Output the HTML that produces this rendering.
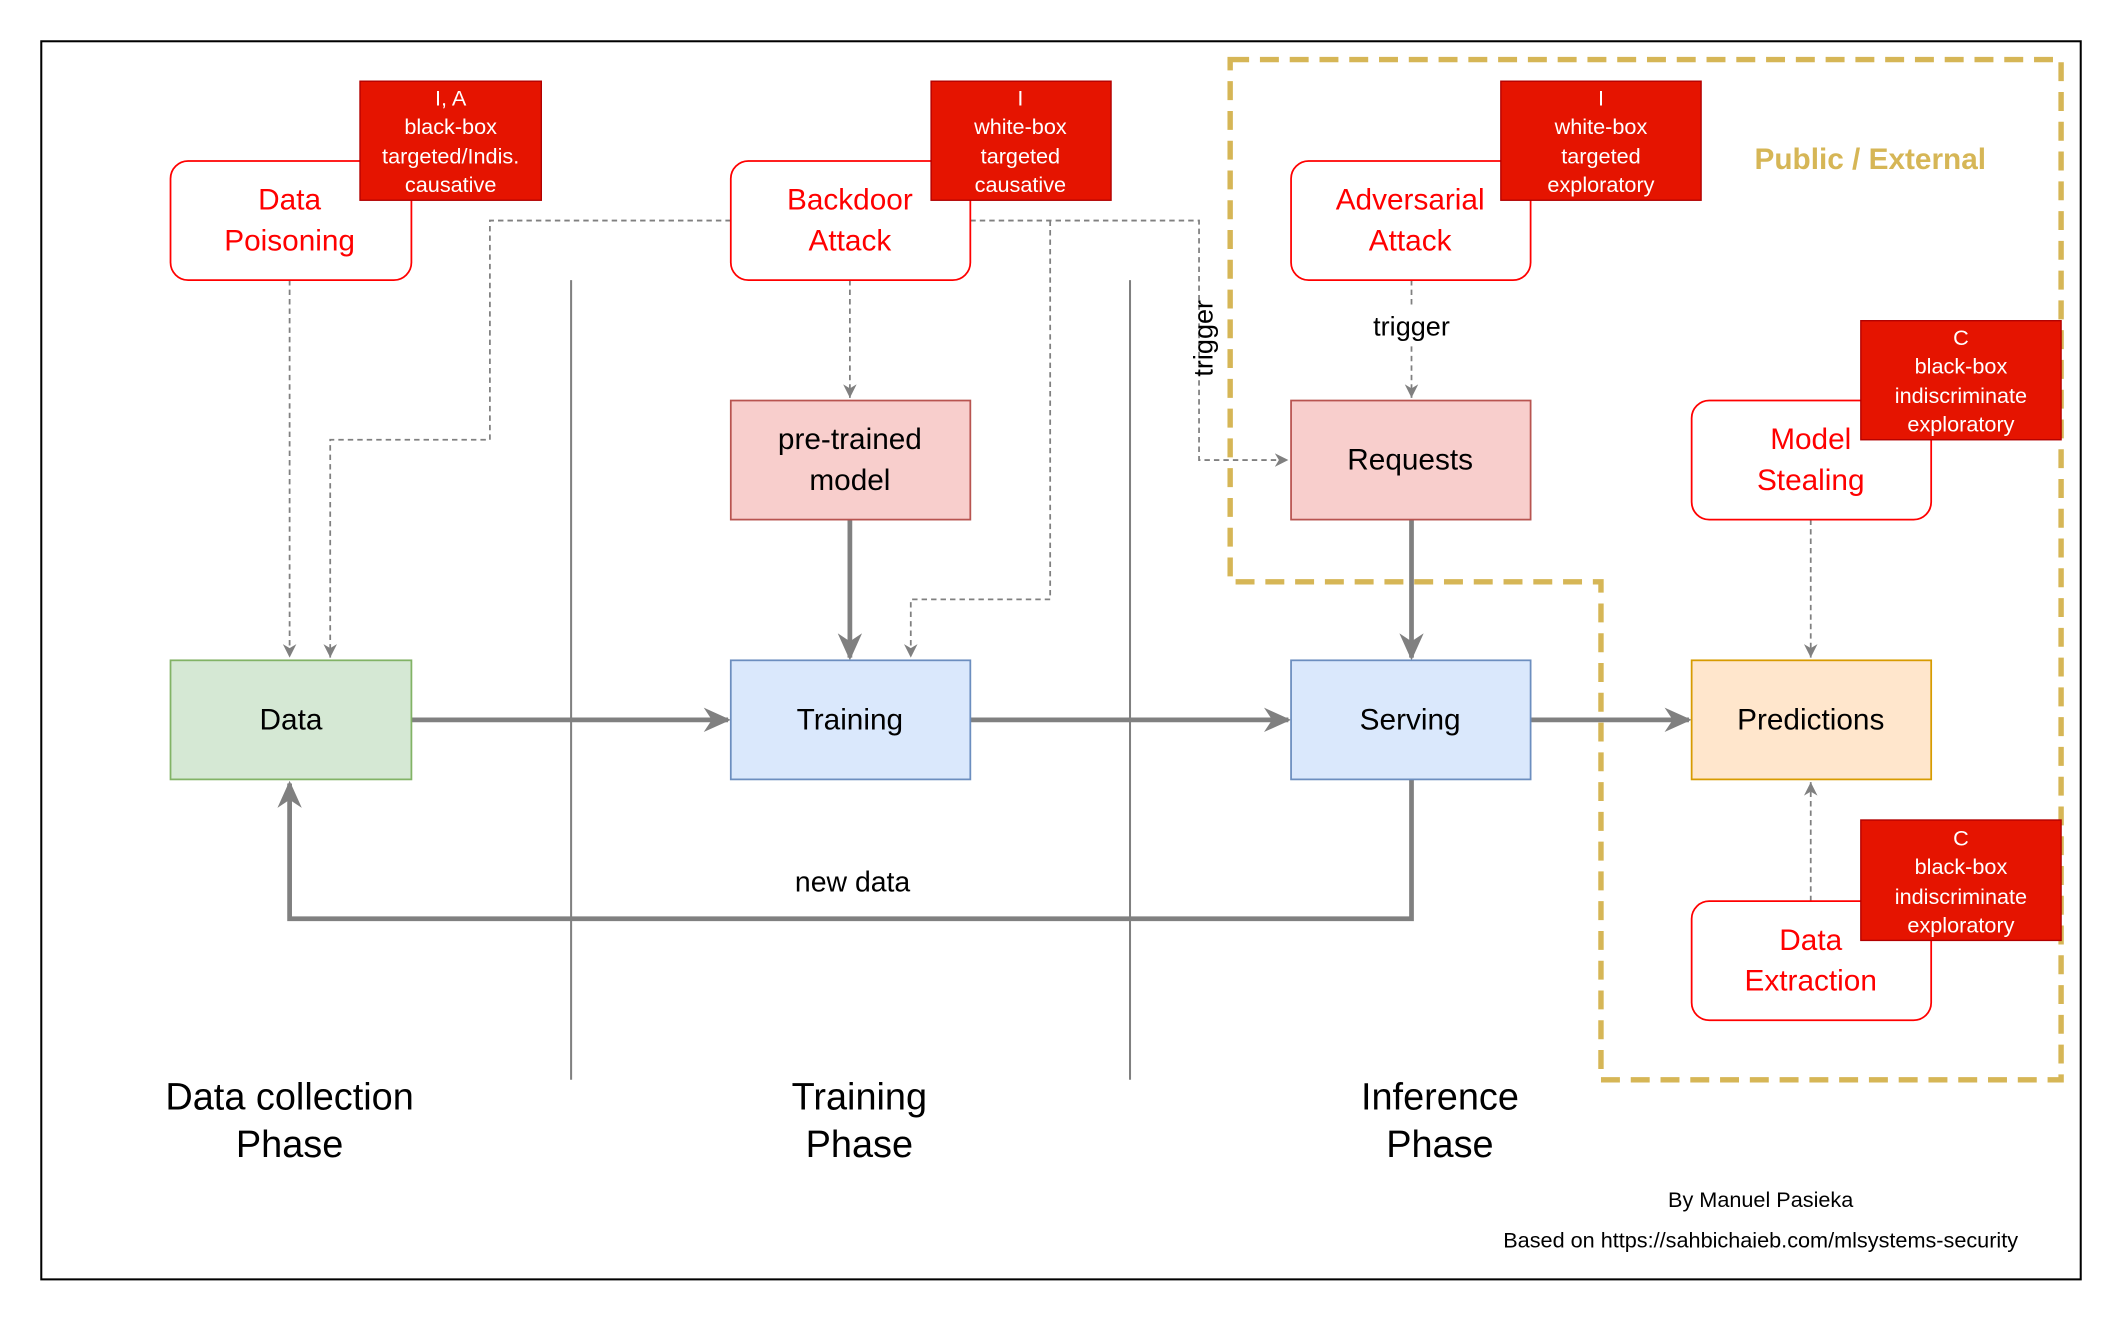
<!DOCTYPE html>
<html><head><meta charset="utf-8"><style>
html,body{margin:0;padding:0;background:#fff;width:2122px;height:1322px;overflow:hidden}
svg{display:block}
text{font-family:"Liberation Sans",Arial,sans-serif}
</style></head><body>
<svg width="2122" height="1322" viewBox="0 0 1568 977" preserveAspectRatio="none" xmlns="http://www.w3.org/2000/svg">
<defs>
<marker id="sm" markerWidth="12" markerHeight="12" refX="10" refY="6" orient="auto" markerUnits="userSpaceOnUse"><path d="M0,1 L10,6 L0,11 L3,6 z" fill="#808080"/></marker>
<marker id="bg" viewBox="0 0 20 20" markerWidth="20" markerHeight="20" refX="18" refY="10" orient="auto" markerUnits="userSpaceOnUse"><path d="M0,1 L20,10 L0,19 L6,10 z" fill="#808080"/></marker>
</defs>
<rect x="0" y="0" width="1568" height="977" fill="#fff"/>
<rect x="30.5" y="30.5" width="1507" height="915" fill="none" stroke="#000" stroke-width="1.5"/>
<path d="M909,44 H1523 V798 H1183 V430 H909 Z" fill="none" stroke="#d6b656" stroke-width="4" stroke-dasharray="14,8"/>
<text x="1382" y="125" font-size="22" font-weight="bold" fill="#d6b656" text-anchor="middle">Public / External</text>

<line x1="422" y1="207" x2="422" y2="798" stroke="#808080" stroke-width="1.5"/>
<line x1="835" y1="207" x2="835" y2="798" stroke="#808080" stroke-width="1.5"/>

<g fill="none" stroke="#808080" stroke-width="1.3" stroke-dasharray="4,3">
<path d="M214,207 V486" marker-end="url(#sm)"/>
<path d="M540,163 H362 V325 H244 V486" marker-end="url(#sm)"/>
<path d="M628,207 V294" marker-end="url(#sm)"/>
<path d="M717,163 H886 V340 H952" marker-end="url(#sm)"/>
<path d="M776,163 V443 H673 V486" marker-end="url(#sm)"/>
<path d="M1043,207 V294" marker-end="url(#sm)"/>
<path d="M1338,384 V486" marker-end="url(#sm)"/>
<path d="M1338,666 V578" marker-end="url(#sm)"/>
</g>
<rect x="1005" y="226" width="76" height="28" fill="#fff"/>
<text x="1043" y="248" font-size="20" text-anchor="middle">trigger</text>
<text transform="translate(896,250) rotate(-90)" font-size="20" text-anchor="middle">trigger</text>

<g fill="none" stroke="#808080" stroke-width="3.5">
<path d="M304,532 H538" marker-end="url(#bg)"/>
<path d="M717,532 H952" marker-end="url(#bg)"/>
<path d="M1131,532 H1248" marker-end="url(#bg)"/>
<path d="M628,384 V486" marker-end="url(#bg)"/>
<path d="M1043,384 V486" marker-end="url(#bg)"/>
<path d="M1043,576 V679 H214 V579" marker-end="url(#bg)"/>
</g>
<rect x="575" y="636" width="110" height="28" fill="#fff"/>
<text x="630" y="659" font-size="21" text-anchor="middle">new data</text>

<g font-size="22" text-anchor="middle">
<rect x="126" y="488" width="178" height="88" fill="#d5e8d4" stroke="#82b366" stroke-width="1.3"/>
<text x="215" y="539">Data</text>
<rect x="540" y="488" width="177" height="88" fill="#dae8fc" stroke="#6c8ebf" stroke-width="1.3"/>
<text x="628" y="539">Training</text>
<rect x="954" y="488" width="177" height="88" fill="#dae8fc" stroke="#6c8ebf" stroke-width="1.3"/>
<text x="1042" y="539">Serving</text>
<rect x="1250" y="488" width="177" height="88" fill="#ffe6cc" stroke="#d79b00" stroke-width="1.3"/>
<text x="1338" y="539">Predictions</text>
<rect x="540" y="296" width="177" height="88" fill="#f8cecc" stroke="#b85450" stroke-width="1.3"/>
<text x="628" y="332">pre-trained</text><text x="628" y="362">model</text>
<rect x="954" y="296" width="177" height="88" fill="#f8cecc" stroke="#b85450" stroke-width="1.3"/>
<text x="1042" y="347">Requests</text>
</g>

<g font-size="22" text-anchor="middle" fill="#ff0000">
<rect x="126" y="119" width="178" height="88" rx="13" fill="#fff" stroke="#ff0000" stroke-width="1.3"/>
<text x="214" y="155">Data</text><text x="214" y="185">Poisoning</text>
<rect x="540" y="119" width="177" height="88" rx="13" fill="#fff" stroke="#ff0000" stroke-width="1.3"/>
<text x="628" y="155">Backdoor</text><text x="628" y="185">Attack</text>
<rect x="954" y="119" width="177" height="88" rx="13" fill="#fff" stroke="#ff0000" stroke-width="1.3"/>
<text x="1042" y="155">Adversarial</text><text x="1042" y="185">Attack</text>
<rect x="1250" y="296" width="177" height="88" rx="13" fill="#fff" stroke="#ff0000" stroke-width="1.3"/>
<text x="1338" y="332">Model</text><text x="1338" y="362">Stealing</text>
<rect x="1250" y="666" width="177" height="88" rx="13" fill="#fff" stroke="#ff0000" stroke-width="1.3"/>
<text x="1338" y="702">Data</text><text x="1338" y="732">Extraction</text>
</g>

<g font-size="16" text-anchor="middle" fill="#fff">
<rect x="266" y="60" width="134" height="88" fill="#e51400" stroke="#b20000"/>
<text x="333" y="78">I, A</text><text x="333" y="99">black-box</text><text x="333" y="121">targeted/Indis.</text><text x="333" y="142">causative</text>
<rect x="688" y="60" width="133" height="88" fill="#e51400" stroke="#b20000"/>
<text x="754" y="78">I</text><text x="754" y="99">white-box</text><text x="754" y="121">targeted</text><text x="754" y="142">causative</text>
<rect x="1109" y="60" width="148" height="88" fill="#e51400" stroke="#b20000"/>
<text x="1183" y="78">I</text><text x="1183" y="99">white-box</text><text x="1183" y="121">targeted</text><text x="1183" y="142">exploratory</text>
<rect x="1375" y="237" width="148" height="88" fill="#e51400" stroke="#b20000"/>
<text x="1449" y="255">C</text><text x="1449" y="276">black-box</text><text x="1449" y="298">indiscriminate</text><text x="1449" y="319">exploratory</text>
<rect x="1375" y="606" width="148" height="89" fill="#e51400" stroke="#b20000"/>
<text x="1449" y="625">C</text><text x="1449" y="646">black-box</text><text x="1449" y="668">indiscriminate</text><text x="1449" y="689">exploratory</text>
</g>

<g font-size="28" text-anchor="middle">
<text x="214" y="820">Data collection</text><text x="214" y="855">Phase</text>
<text x="635" y="820">Training</text><text x="635" y="855">Phase</text>
<text x="1064" y="820">Inference</text><text x="1064" y="855">Phase</text>
</g>
<text x="1301" y="892" font-size="16" text-anchor="middle">By Manuel Pasieka</text>
<text x="1301" y="922" font-size="16" text-anchor="middle">Based on https://sahbichaieb.com/mlsystems-security</text>
</svg>
</body></html>
